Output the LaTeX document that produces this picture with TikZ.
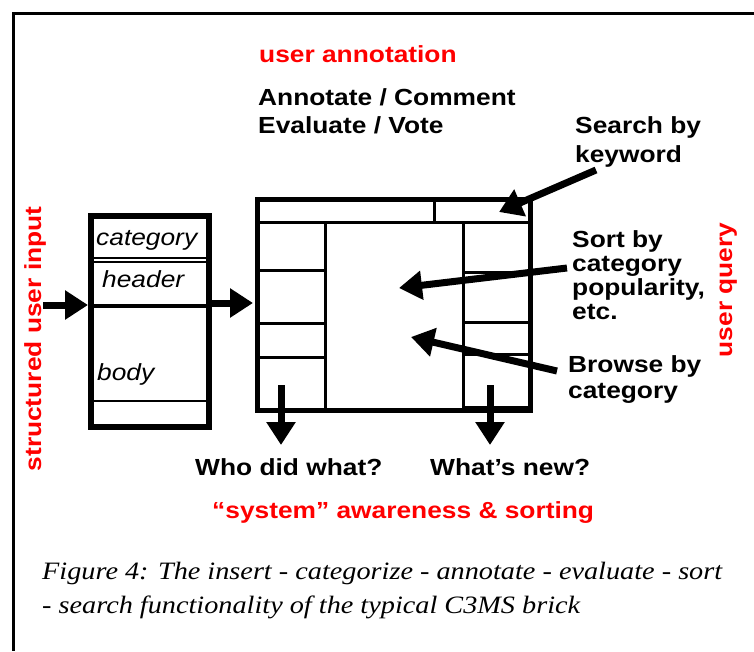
\documentclass[tikz,border=0pt]{standalone}
\usepackage{fontspec}
\usetikzlibrary{arrows.meta}
\newfontfamily\labfont{Liberation Sans}[FakeStretch=1.13]
\newfontfamily\capfont{Liberation Serif}[FakeStretch=1.13]
\definecolor{annotred}{RGB}{255,0,0}
\tikzset{
  lbl/.style={font=\labfont\bfseries\fontsize{23.3}{24}\selectfont, anchor=base west, inner sep=0},
  redlbl/.style={lbl, text=annotred},
  fld/.style={font=\labfont\itshape\fontsize{23.3}{24}\selectfont, anchor=base west, inner sep=0},
  captxt/.style={font=\capfont\itshape\fontsize{25}{26}\selectfont, anchor=base west, inner sep=0},
  arr/.style={line width=7pt, -{Triangle[length=23pt,width=28pt]}},
  thick box/.style={line width=5pt},
  rule/.style={line width=3pt}
}
\begin{document}
\begin{tikzpicture}[x=1pt,y=-1pt]
\useasboundingbox (0,0) rectangle (754,651);
\draw[line width=3pt] (754,13.5) -- (13.5,13.5) -- (13.5,651);

\node[redlbl] (annot) at (259,62) {user annotation};
\node[lbl] (ann1) at (258,105) {Annotate / Comment};
\node[lbl] (ann2) at (258,133) {Evaluate / Vote};
\node[lbl] (search1) at (575,133) {Search by};
\node[lbl] (search2) at (575,162) {keyword};
\node[lbl] (sort1) at (572,247) {Sort by};
\node[lbl] (sort2) at (572,271) {category};
\node[lbl] (sort3) at (572,295) {popularity,};
\node[lbl] (sort4) at (572,319) {etc.};
\node[lbl] (browse1) at (568,372) {Browse by};
\node[lbl] (browse2) at (568,398) {category};
\node[lbl] (who) at (195,475) {Who did what?};
\node[lbl] (new) at (430,475) {What’s new?};
\node[redlbl] (aware) at (212,518) {“system” awareness \& sorting};
\node[redlbl, anchor=base, rotate=90] (input) at (41,339) {structured user input};
\node[redlbl, anchor=base, rotate=90] (query) at (732,290) {user query};
\node[captxt] (cap1) at (42,579) {Figure 4: The insert - categorize - annotate - evaluate - sort};
\node[captxt] (cap2) at (42,613) {- search functionality of the typical C3MS brick};

\draw[line width=6pt] (91,216) rectangle (209,427);
\draw[line width=1.5pt] (91,258) -- (209,258) (91,262) -- (209,262);
\draw[line width=4pt] (91,306) -- (209,306);
\draw[line width=2pt] (91,401) -- (209,401);
\node[fld] (category) at (96,245) {category};
\node[fld] (header) at (102,287) {header};
\node[fld] (body) at (97,380) {body};

\draw[thick box] (257.5,199.5) rectangle (530,410.5);
\draw[rule] (257.5,222) -- (530,222) (434,199.5) -- (434,222);
\draw[rule] (325,222) -- (325,410.5) (463,222) -- (463,410.5);
\draw[rule] (257.5,270) -- (325,270) (257.5,323) -- (325,323) (257.5,357) -- (325,357);
\draw[rule] (463,272) -- (530,272) (463,322) -- (530,322) (463,354) -- (530,354);
\draw[line width=1.5pt] (463,407) -- (530,407);

\coordinate (inS) at (43,305);
\coordinate (inE) at (88,305);
\coordinate (outS) at (212,303);
\coordinate (outE) at (253,303);
\coordinate (searchS) at (596,170);
\coordinate (searchE) at (499,212);
\coordinate (sortS) at (567,268);
\coordinate (sortE) at (399,288);
\coordinate (browseS) at (557,371);
\coordinate (browseE) at (411,337);
\coordinate (whoS) at (281,385);
\coordinate (whoE) at (281,445);
\coordinate (newS) at (490,385);
\coordinate (newE) at (490,445);

\path[arr] (inS) edge (inE);
\path[arr] (outS) edge (outE);
\path[arr] (searchS) edge (searchE);
\path[arr] (sortS) edge (sortE);
\path[arr] (browseS) edge (browseE);
\path[arr] (whoS) edge (whoE);
\path[arr] (newS) edge (newE);
\end{tikzpicture}
\end{document}
